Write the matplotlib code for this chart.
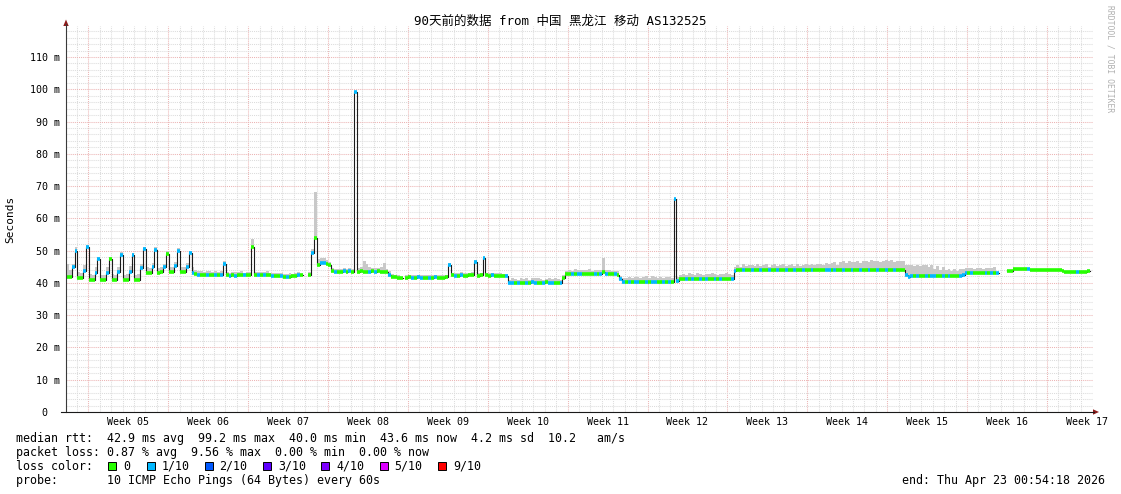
import numpy as np
import matplotlib
matplotlib.use("Agg")
import matplotlib.pyplot as plt
from matplotlib.patches import Polygon, Rectangle
from matplotlib.lines import Line2D
from matplotlib.ticker import FuncFormatter
from matplotlib.transforms import blended_transform_factory

nan = float("nan")

# =========================
# DATA (one value per 6 hours, two days per row, start = Jan 23 00:54:18)
# =========================
median_ms = [
    41.9, 41.8, 44.8, 50.0, 41.5, 41.5, 43.8, 51.0,
    40.9, 40.9, 43.2, 47.3, 40.9, 40.9, 43.2, 47.3,
    40.9, 40.9, 43.5, 48.6, 40.9, 40.9, 43.5, 48.6,
    40.9, 41.0, 44.5, 50.5, 43.2, 43.2, 45.0, 50.3,
    43.2, 43.3, 44.8, 49.0, 43.4, 43.4, 45.2, 50.0,
    43.4, 43.4, 45.0, 49.2, 43.0, 42.8, 42.6, 42.6,
    42.5, 42.6, 42.5, 42.5, 42.5, 42.4, 42.5, 46.0,
    42.3, 42.2, 42.3, 42.2, 42.3, 42.5, 42.4, 42.5,
    42.3, 51.2, 42.5, 42.4, 42.4, 42.3, 42.4, 42.3,
    42.1, 42.0, 42.0, 42.1, 41.8, 41.7, 41.9, 42.0,
    42.2, 42.3, 42.4, nan, nan, 42.4, 49.4, 54.0,
    45.6, 46.1, 46.1, 45.9, 45.5, 43.6, 43.5, 43.5,
    43.5, 43.6, 43.4, 43.6, 43.5, 99.2, 43.5, 43.6,
    43.5, 43.4, 43.5, 43.6, 43.5, 43.6, 43.4, 43.5,
    43.3, 42.6, 41.9, 41.8, 41.6, 41.6, nan, 41.6,
    41.7, 41.5, 41.6, 41.7, 41.6, 41.5, 41.6, 41.5,
    41.6, 41.7, 41.5, 41.6, 41.6, 41.7, 45.5, 42.3,
    42.2, 42.2, 42.6, 42.2, 42.2, 42.3, 42.4, 46.6,
    42.2, 42.3, 47.6, 42.3, 42.2, 42.3, 42.2, 42.2,
    42.2, 42.1, 42.0, 40.1, 40.0, 40.1, 39.9, 40.0,
    40.1, 39.9, 40.0, 40.2, 40.0, 40.1, 39.9, 40.0,
    40.2, 40.0, 39.9, 40.1, 40.0, 40.0, 41.6, 42.9,
    42.9, 42.8, 42.9, 42.8, 42.9, 42.8, 42.9, 42.9,
    42.8, 42.9, 42.8, 42.7, 43.3, 42.8, 42.8, 42.7,
    42.8, 42.6, 41.2, 40.4, 40.3, 40.2, 40.3, 40.4,
    40.2, 40.3, 40.2, 40.4, 40.3, 40.4, 40.2, 40.3,
    40.3, 40.2, 40.4, 40.3, 40.4, 66.0, 40.6, 41.2,
    41.2, 41.1, 41.3, 41.2, 41.2, 41.3, 41.1, 41.2,
    41.3, 41.2, 41.2, 41.3, 41.2, 41.1, 41.2, 41.3,
    41.2, 41.2, 43.6, 43.9, 43.9, 44.0, 43.9, 44.0,
    44.0, 43.9, 43.9, 44.0, 43.9, 44.0, 43.9, 43.9,
    44.0, 43.9, 44.0, 43.9, 43.9, 44.0, 43.9, 44.0,
    44.0, 43.9, 44.0, 43.9, 43.9, 43.9, 44.0, 43.9,
    44.0, 43.9, 44.0, 44.0, 43.9, 44.0, 43.9, 44.0,
    44.0, 43.9, 44.0, 43.9, 44.0, 44.0, 43.9, 44.0,
    43.9, 44.0, 44.0, 43.9, 44.0, 43.9, 44.0, 44.0,
    44.0, 44.0, 43.9, 44.0, 44.0, 44.0, 42.6, 41.9,
    42.0, 42.1, 42.0, 42.1, 42.1, 42.0, 42.1, 42.0,
    42.0, 42.1, 42.0, 42.1, 42.1, 42.0, 42.1, 42.1,
    42.1, 42.0, 42.5, 43.0, 43.0, 43.0, 43.1, 43.0,
    43.0, 43.1, 43.0, 43.0, 43.1, 43.0, 43.2, nan,
    nan, nan, 43.7, 43.8, 44.2, 44.3, 44.3, 44.3,
    44.3, 44.2, 44.1, 44.0, 44.0, 44.0, 44.0, 44.0,
    44.0, 44.0, 44.0, 44.0, 44.0, 43.6, 43.5, 43.5,
    43.5, 43.4, 43.5, 43.4, 43.4, 43.5, 43.6, nan,
]

smoke_top_ms = [
    46.0, 44.0, 46.0, 51.0, 43.5, 43.2, 45.5, 51.8,
    42.8, 42.5, 45.0, 48.0, 42.5, 42.5, 44.8, 48.0,
    42.8, 42.6, 45.0, 49.5, 42.6, 42.8, 45.2, 49.3,
    42.5, 42.8, 46.0, 51.2, 44.8, 44.6, 46.2, 51.0,
    44.6, 44.8, 46.0, 49.8, 44.8, 44.8, 46.5, 50.8,
    44.8, 45.0, 46.2, 50.0, 44.8, 44.0, 43.8, 43.6,
    43.5, 43.6, 43.8, 43.4, 43.6, 43.5, 43.6, 46.8,
    43.4, 43.2, 43.5, 43.3, 43.3, 43.6, 43.2, 43.5,
    43.4, 53.6, 43.5, 43.4, 43.5, 43.3, 43.6, 43.2,
    43.0, 43.2, 43.0, 43.1, 42.8, 42.8, 43.0, 42.9,
    43.2, 43.4, 43.3, nan, nan, 43.5, 50.5, 68.3,
    47.5, 47.8, 47.6, 47.0, 46.5, 44.5, 44.4, 44.3,
    44.3, 44.5, 44.2, 44.6, 44.4, 99.2, 44.5, 44.8,
    46.8, 46.0, 44.8, 44.6, 44.6, 44.5, 45.0, 46.2,
    44.3, 43.6, 42.8, 42.6, 42.5, 42.4, nan, 42.6,
    42.5, 42.6, 42.4, 42.6, 42.4, 42.5, 42.6, 42.4,
    42.6, 42.5, 42.4, 42.5, 42.4, 42.6, 46.2, 43.2,
    43.0, 43.1, 43.4, 43.0, 43.1, 43.0, 43.3, 47.2,
    43.0, 43.2, 48.0, 43.1, 43.1, 43.0, 43.2, 43.0,
    43.0, 42.8, 42.8, 41.0, 41.4, 41.2, 41.0, 41.5,
    41.2, 41.5, 41.0, 41.4, 41.6, 41.4, 41.2, 41.0,
    41.3, 41.5, 41.2, 41.4, 41.2, 41.0, 42.5, 43.8,
    44.0, 43.8, 44.2, 43.9, 44.1, 43.9, 44.0, 44.2,
    43.8, 44.0, 43.9, 44.0, 47.6, 43.9, 44.0, 43.8,
    43.8, 43.6, 42.0, 41.5, 41.5, 41.8, 41.6, 41.9,
    41.8, 41.4, 41.7, 42.0, 41.6, 42.0, 41.8, 41.5,
    41.9, 41.6, 41.8, 41.7, 41.6, 66.3, 41.8, 42.3,
    42.8, 42.6, 43.0, 42.7, 42.5, 43.2, 42.8, 42.6,
    42.9, 42.7, 43.0, 42.8, 42.6, 42.9, 42.7, 43.1,
    42.8, 42.6, 44.8, 45.4, 45.0, 45.8, 45.2, 45.6,
    45.7, 45.1, 45.8, 45.3, 45.5, 45.8, 45.0, 45.7,
    45.8, 45.2, 45.6, 45.9, 45.3, 45.7, 46.0, 45.2,
    45.8, 45.3, 45.7, 46.0, 45.4, 46.0, 45.6, 45.8,
    45.9, 45.5, 46.1, 45.8, 46.1, 46.4, 45.7, 46.6,
    46.7, 46.2, 46.8, 46.5, 46.6, 46.9, 46.3, 46.8,
    46.8, 46.4, 47.0, 46.7, 46.9, 46.5, 46.8, 47.0,
    46.8, 47.1, 46.6, 46.9, 46.7, 46.8, 45.5, 45.4,
    45.5, 45.2, 45.6, 45.3, 45.4, 45.7, 44.8, 45.5,
    44.2, 45.3, 44.0, 45.0, 44.0, 44.4, 43.8, 44.2,
    43.8, 44.2, 44.2, 44.6, 44.5, 44.6, 44.4, 44.7,
    44.6, 44.4, 44.7, 44.5, 44.5, 44.8, 44.6, nan,
    nan, nan, 44.0, 44.1, 44.5, 44.6, 44.5, 44.6,
    44.6, 44.5, 44.4, 44.3, 44.3, 44.3, 44.3, 44.3,
    44.3, 44.3, 44.3, 44.3, 44.3, 43.9, 43.8, 43.8,
    43.8, 43.7, 43.8, 43.7, 43.7, 43.8, 43.9, nan,
]

# loss level (tenths) per 6 hours, two days per row
loss_tenths = [int(c) for c in (
    "00110011" "00110010" "00110011" "00110011" "00100011"
    "00111010" "01001011" "01010010" "00010100" "10010100"
    "01000010" "01100010" "01010100" "00101000" "01000000"
    "01011001" "01000010" "10100001" "00100100" "00111010"
    "01011001" "01100100" "01011000" "01010100" "10110101"
    "10010110" "01010110" "01010010" "10010100" "01100100"
    "10010010" "01001001" "00100100" "00110100" "10010010"
    "01001001" "00100011" "10100101" "10010100" "01110100"
    "00101010" "00000000" "01000000" "00000000" "00100000"
)]

week_labels = ["Week 05", "Week 06", "Week 07", "Week 08", "Week 09", "Week 10", "Week 11",
               "Week 12", "Week 13", "Week 14", "Week 15", "Week 16", "Week 17"]
first_week_day = 1.9623   # Sun Jan 25 00:00 relative to start
first_day_day = 0.9623

loss_names = ["0", "1/10", "2/10", "3/10", "4/10", "5/10", "9/10"]
loss_colors = ["#26ff00", "#00b8ff", "#0059ff", "#5e00ff", "#7e00ff", "#dd00ff", "#ff0000"]

title = "90天前的数据 from 中国 黑龙江 移动 AS132525"
stat_rtt = "median rtt:  42.9 ms avg  99.2 ms max  40.0 ms min  43.6 ms now  4.2 ms sd  10.2   am/s"
stat_loss = "packet loss: 0.87 % avg  9.56 % max  0.00 % min  0.00 % now"
probe_line = "probe:       10 ICMP Echo Pings (64 Bytes) every 60s"
end_line = "end: Thu Apr 23 00:54:18 2026"

# =========================
# FIGURE
# =========================
plt.rcParams["font.family"] = ["DejaVu Sans Mono", "Noto Sans CJK SC"]
W, H = 1121, 494
fig = plt.figure(figsize=(W / 100, H / 100), dpi=100, facecolor="white")

ax = fig.add_axes([66 / W, (H - 412) / H, (1093 - 66) / W, (412 - 26) / H])
ax.set_xlim(0, 90)
ax.set_ylim(0, 119.6)
for s in ax.spines.values():
    s.set_visible(False)

week_starts = [first_week_day + 7 * k for k in range(len(week_labels))]
day_starts = [first_day_day + k for k in range(90) if k % 7 != 1]
ax.set_xticks(week_starts)
ax.set_xticks(day_starts, minor=True)
ax.set_yticks(np.arange(0, 120, 10))
ax.set_yticks([v for v in range(0, 120, 2) if v % 10], minor=True)
ax.grid(which="minor", color="#dcdcdc", linestyle=(0, (1, 1)), linewidth=0.75)
ax.grid(which="major", color="#ecb4b4", linestyle=(0, (1, 1)), linewidth=0.75)
ax.set_axisbelow(True)
ax.tick_params(which="both", length=0, labelbottom=False, labelsize=7.2, pad=4.3)
ax.yaxis.set_major_formatter(FuncFormatter(lambda v, p: f"{v:.0f} m" if v else "0  "))

trans = blended_transform_factory(ax.transData, ax.transAxes)
for start, lab in zip(week_starts, week_labels):
    ax.text(start + 3.5, -0.012, lab, transform=trans, ha="center", va="top", fontsize=7.2)

# smoke + median
M = np.array(median_ms)
S = np.array(smoke_top_ms)
t = np.arange(len(M)) * 0.25
tt = np.append(t, t[-1] + 0.25)
ax.fill_between(tt, np.append(M, M[-1]), np.append(S, S[-1]), step="post",
                color="#c8c8c8", linewidth=0)
ax.step(tt, np.append(M, M[-1]), where="post", color="#1c1c1c", linewidth=0.8)
ax.hlines(M, t, t + 0.25, colors=[loss_colors[l] for l in loss_tenths],
          linewidth=2.6, capstyle="butt")

# =========================
# OVERLAY (pixel coordinates)
# =========================
ov = fig.add_axes([0, 0, 1, 1], facecolor="none")
ov.set_xlim(0, W)
ov.set_ylim(H, 0)
ov.axis("off")

ov.add_line(Line2D([66, 66], [412, 24], color="#3a3a3a", linewidth=0.8))
ov.add_line(Line2D([61, 1094], [412, 412], color="#1a1a1a", linewidth=0.8))
ov.add_patch(Polygon([(63.3, 26), (68.7, 26), (66, 19.5)], closed=True, color="#8e1b1b", lw=0))
ov.add_patch(Polygon([(1093, 409.3), (1093, 414.7), (1099, 412)], closed=True, color="#8e1b1b", lw=0))

ov.text(560, 21, title, ha="center", va="center", fontsize=9)
ov.text(10, 219, "Seconds", rotation=90, ha="center", va="center", fontsize=8)
ov.text(1110, 5, "RRDTOOL / TOBI OETIKER", rotation=270, ha="center", va="top",
        fontsize=5.8, color="#b0b0b0")

fs = 8.4
ov.text(16, 438, stat_rtt, ha="left", va="center", fontsize=fs)
ov.text(16, 452, stat_loss, ha="left", va="center", fontsize=fs)
ov.text(16, 466, "loss color:", ha="left", va="center", fontsize=fs)
box_x = [108, 146.5, 204.5, 263, 321, 379.5, 438]
for bx, name, col in zip(box_x, loss_names, loss_colors):
    ov.add_patch(Rectangle((bx, 462), 8, 8, facecolor=col, edgecolor="black", linewidth=0.7))
    ov.text(bx + 15, 466, name, ha="left", va="center", fontsize=fs)
ov.text(16, 480, probe_line, ha="left", va="center", fontsize=fs)
ov.text(1105, 480, end_line, ha="right", va="center", fontsize=fs)

fig.savefig("out.png", dpi=100, facecolor="white")
